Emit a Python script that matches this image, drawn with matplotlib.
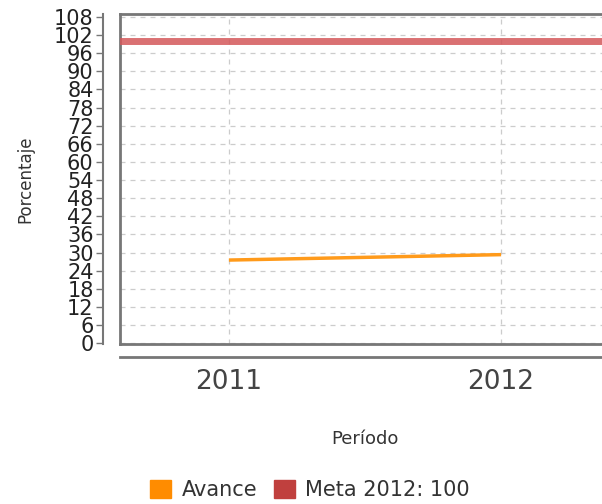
import matplotlib
matplotlib.use("Agg")
import matplotlib.pyplot as plt
from matplotlib.patches import Patch
import numpy as np

periods = ["2011", "2012"]
avance = [27.5, 29.3]
meta = 100
y_ticks = list(range(0, 109, 6))

fig = plt.figure(figsize=(6.02, 5.04), dpi=100)
ax = fig.add_axes([120 / 602, 1 - 344 / 504, 490 / 602, 330 / 504])

x = np.arange(len(periods))
ax.plot(x, avance, color="#ff9a1a", lw=2.5, solid_capstyle="butt", zorder=3)
ax.axhline(meta, color="#d4585a", lw=5, alpha=0.85, zorder=3)

ax.set_xlim(-0.4, 1.4)
ax.set_ylim(-0.3, 109)

ax.grid(True, color="#cccccc", linestyle=(0, (4, 4)), lw=0.9)
ax.set_axisbelow(True)

ax.spines["right"].set_visible(False)
ax.spines["top"].set_color("#777777")
ax.spines["top"].set_linewidth(2)
ax.spines["left"].set_position(("outward", 12))
ax.spines["left"].set_color("#777777")
ax.spines["left"].set_linewidth(1.5)
ax.spines["bottom"].set_position(("outward", 9))
ax.spines["bottom"].set_color("#777777")
ax.spines["bottom"].set_linewidth(2)
ax.plot([0, 0], [0, 1], transform=ax.transAxes, color="#777777", lw=2, clip_on=False)
ax.plot([0, 1], [0, 0], transform=ax.transAxes, color="#777777", lw=2, clip_on=False)

ax.tick_params(axis="y", length=5, width=1, color="#777777", pad=2, labelcolor="#222222")
ax.tick_params(axis="x", length=0, pad=9)

ax.set_yticks(y_ticks)
ax.set_yticklabels([str(v) for v in y_ticks], fontsize=15)
ax.set_xticks(x)
ax.set_xticklabels(periods, fontsize=19, color="#444444")

ax.set_ylabel("Porcentaje", fontsize=12, color="#333333", labelpad=14)
ax.set_xlabel("Período", fontsize=13, color="#333333", labelpad=25)

handles = [Patch(color="#ff8c00", label="Avance"), Patch(color="#c0403e", label="Meta 2012: 100")]
fig.legend(handles=handles, loc="center", bbox_to_anchor=(310 / 602, 1 - 490 / 504), ncol=2,
           frameon=False, fontsize=15, handlelength=1.0, handleheight=1.0, handletextpad=0.5,
           columnspacing=0.8, labelcolor="#333333")

fig.savefig("out.png", dpi=100)
